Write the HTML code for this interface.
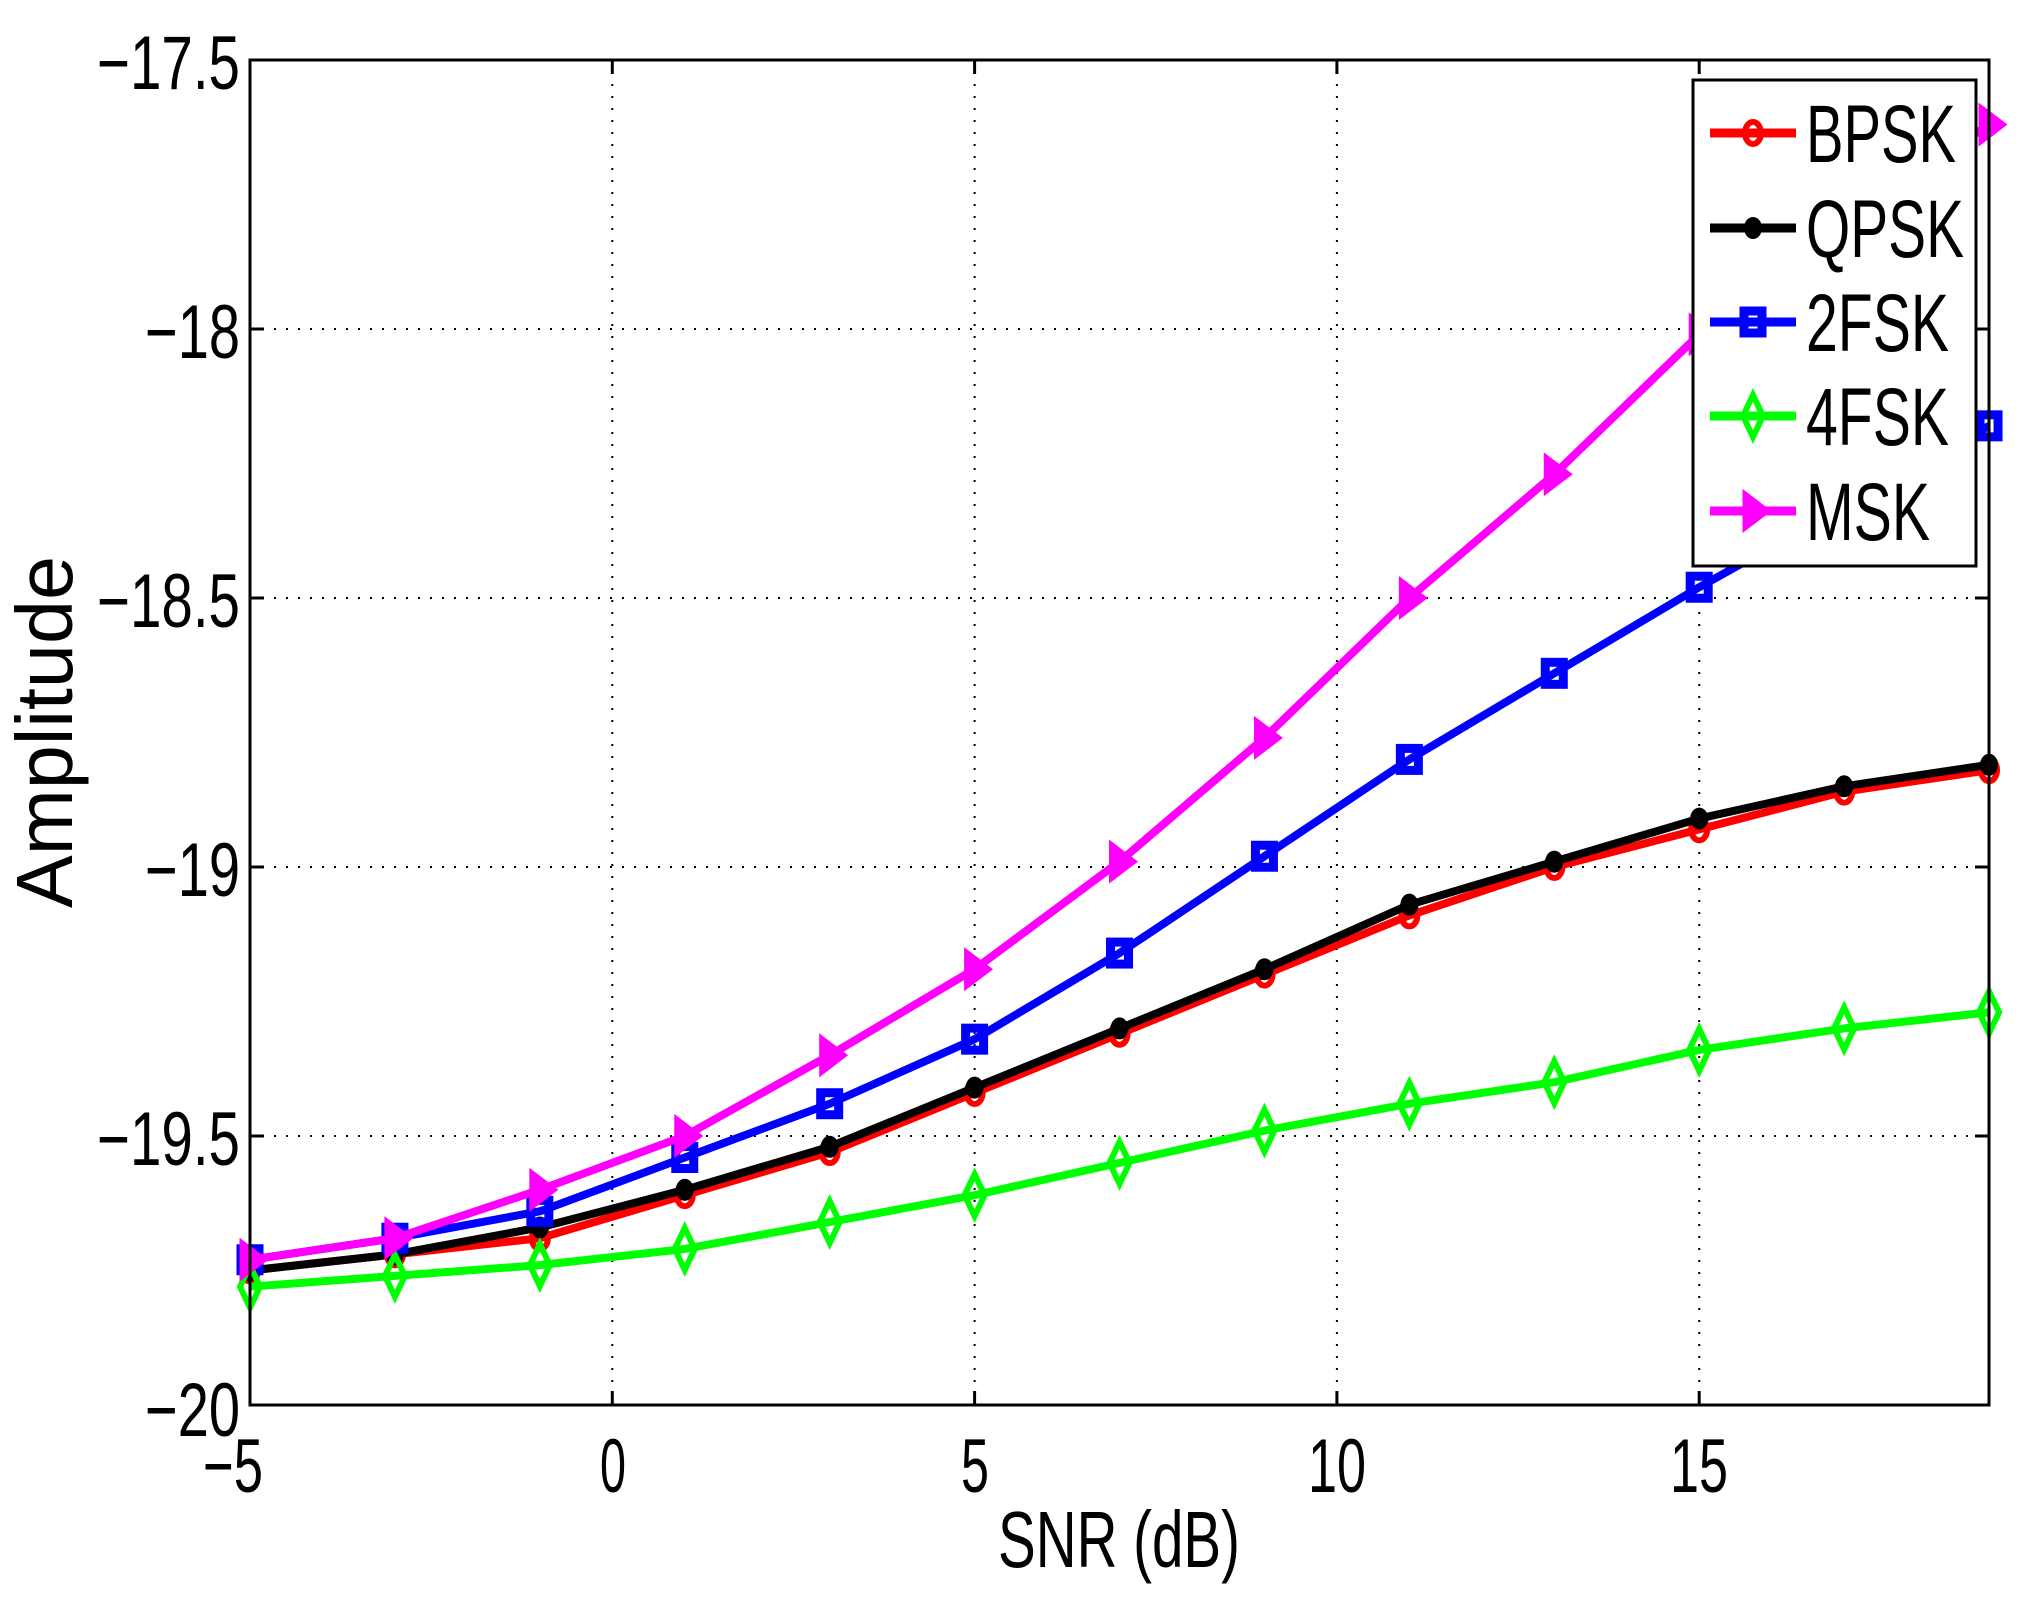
<!DOCTYPE html>
<html><head><meta charset="utf-8"><style>
html,body{margin:0;padding:0;background:#fff;}
svg{display:block;}
text{font-family:"Liberation Sans",sans-serif;fill:#000;}
</style></head><body>
<svg id="s" width="2020" height="1604" viewBox="0 0 2020 1604" xmlns="http://www.w3.org/2000/svg">
<rect width="2020" height="1604" fill="#fff"/>
<g id="grid" stroke="#000" stroke-width="2" stroke-dasharray="2,10"></g>
<g id="ticks" stroke="#000" stroke-width="3"></g>
<g id="series"></g>
<rect x="250" y="60" width="1739" height="1345" fill="none" stroke="#000" stroke-width="3"/>
<g font-size="76" text-anchor="end">
<text x="240" y="89" textLength="143" lengthAdjust="spacingAndGlyphs">−17.5</text>
<text x="240" y="358" textLength="95" lengthAdjust="spacingAndGlyphs">−18</text>
<text x="240" y="627" textLength="143" lengthAdjust="spacingAndGlyphs">−18.5</text>
<text x="240" y="896" textLength="95" lengthAdjust="spacingAndGlyphs">−19</text>
<text x="240" y="1165" textLength="143" lengthAdjust="spacingAndGlyphs">−19.5</text>
<text x="240" y="1436" textLength="95" lengthAdjust="spacingAndGlyphs">−20</text>
</g>
<g font-size="76" text-anchor="middle">
<text x="233" y="1492" textLength="60" lengthAdjust="spacingAndGlyphs">−5</text>
<text x="613" y="1492" textLength="26" lengthAdjust="spacingAndGlyphs">0</text>
<text x="975" y="1492" textLength="28" lengthAdjust="spacingAndGlyphs">5</text>
<text x="1337" y="1492" textLength="58" lengthAdjust="spacingAndGlyphs">10</text>
<text x="1699" y="1492" textLength="58" lengthAdjust="spacingAndGlyphs">15</text>
</g>
<text x="998" y="1567" font-size="80" textLength="242" lengthAdjust="spacingAndGlyphs">SNR (dB)</text>
<text transform="translate(72,908) rotate(-90)" font-size="80" textLength="352" lengthAdjust="spacingAndGlyphs">Amplitude</text>
<g id="legend"></g>
</svg>
<script>
var NS="http://www.w3.org/2000/svg";
function el(t,a,p){var e=document.createElementNS(NS,t);for(var k in a)e.setAttribute(k,a[k]);p.appendChild(e);return e;}
function X(v){return 250+(v+5)*72.46;}
function Y(v){return 60+(-17.5-v)*538;}
var g=document.getElementById('grid'),tk=document.getElementById('ticks');
[0,5,10,15].forEach(function(v){var x=X(v);el('line',{x1:x,y1:60,x2:x,y2:1405},g);
el('line',{x1:x,y1:1405,x2:x,y2:1391},tk);el('line',{x1:x,y1:60,x2:x,y2:74},tk);});
[-18,-18.5,-19,-19.5].forEach(function(v){var y=Y(v);el('line',{x1:250,y1:y,x2:1989,y2:y},g);
el('line',{x1:250,y1:y,x2:264,y2:y},tk);el('line',{x1:1989,y1:y,x2:1975,y2:y},tk);});
var xs=[-5,-3,-1,1,3,5,7,9,11,13,15,17,19];
var S=[
{c:'#f00',m:'o',d:[-19.75,-19.72,-19.69,-19.61,-19.53,-19.42,-19.31,-19.20,-19.09,-19.00,-18.93,-18.86,-18.82]},
{c:'#000',m:'dot',d:[-19.75,-19.72,-19.67,-19.60,-19.52,-19.41,-19.30,-19.19,-19.07,-18.99,-18.91,-18.85,-18.81]},
{c:'#00f',m:'s',d:[-19.73,-19.69,-19.64,-19.54,-19.44,-19.32,-19.16,-18.98,-18.80,-18.64,-18.48,-18.33,-18.18]},
{c:'#0f0',m:'d',d:[-19.78,-19.76,-19.74,-19.71,-19.66,-19.61,-19.55,-19.49,-19.44,-19.40,-19.34,-19.30,-19.27]},
{c:'#f0f',m:'t',d:[-19.73,-19.69,-19.60,-19.50,-19.35,-19.19,-18.99,-18.76,-18.50,-18.27,-18.01,-17.80,-17.62]}];
function marker(p,m,x,y,c){
 if(m=='o')el('ellipse',{cx:x,cy:y,rx:8,ry:11,fill:'none',stroke:c,'stroke-width':6},p);
 else if(m=='dot')el('ellipse',{cx:x,cy:y,rx:8,ry:10,fill:c,stroke:c,'stroke-width':2},p);
 else if(m=='s')el('rect',{x:x-9,y:y-11,width:18,height:22,fill:'none',stroke:c,'stroke-width':9},p);
 else if(m=='d')el('polygon',{points:(x)+','+(y-21)+' '+(x+10)+','+y+' '+x+','+(y+21)+' '+(x-10)+','+y,fill:'none',stroke:c,'stroke-width':6},p);
 else if(m=='t')el('polygon',{points:(x-9)+','+(y-19)+' '+(x+16)+','+y+' '+(x-9)+','+(y+19),fill:c,stroke:c,'stroke-width':3},p);
}
var sg=document.getElementById('series');
S.forEach(function(s){var pts=xs.map(function(x,i){return X(x)+','+Y(s.d[i]);}).join(' ');
el('polyline',{points:pts,fill:'none',stroke:s.c,'stroke-width':8,'stroke-linejoin':'round'},sg);
xs.forEach(function(x,i){marker(sg,s.m,X(x),Y(s.d[i]),s.c);});});
var lg=document.getElementById('legend');
el('rect',{x:1693,y:80,width:283,height:486,fill:'#fff',stroke:'#000','stroke-width':3},lg);
var names=['BPSK','QPSK','2FSK','4FSK','MSK'],ys=[133,228,322,416,511],wl=[150,158,143,143,124];
S.forEach(function(s,i){var y=ys[i];el('line',{x1:1710,y1:y,x2:1796,y2:y,stroke:s.c,'stroke-width':9},lg);
marker(lg,s.m,1753,y,s.c);
var t=el('text',{x:1806,y:y+29,'font-size':82,textLength:wl[i],lengthAdjust:'spacingAndGlyphs'},lg);t.textContent=names[i];});
</script>
</body></html>
